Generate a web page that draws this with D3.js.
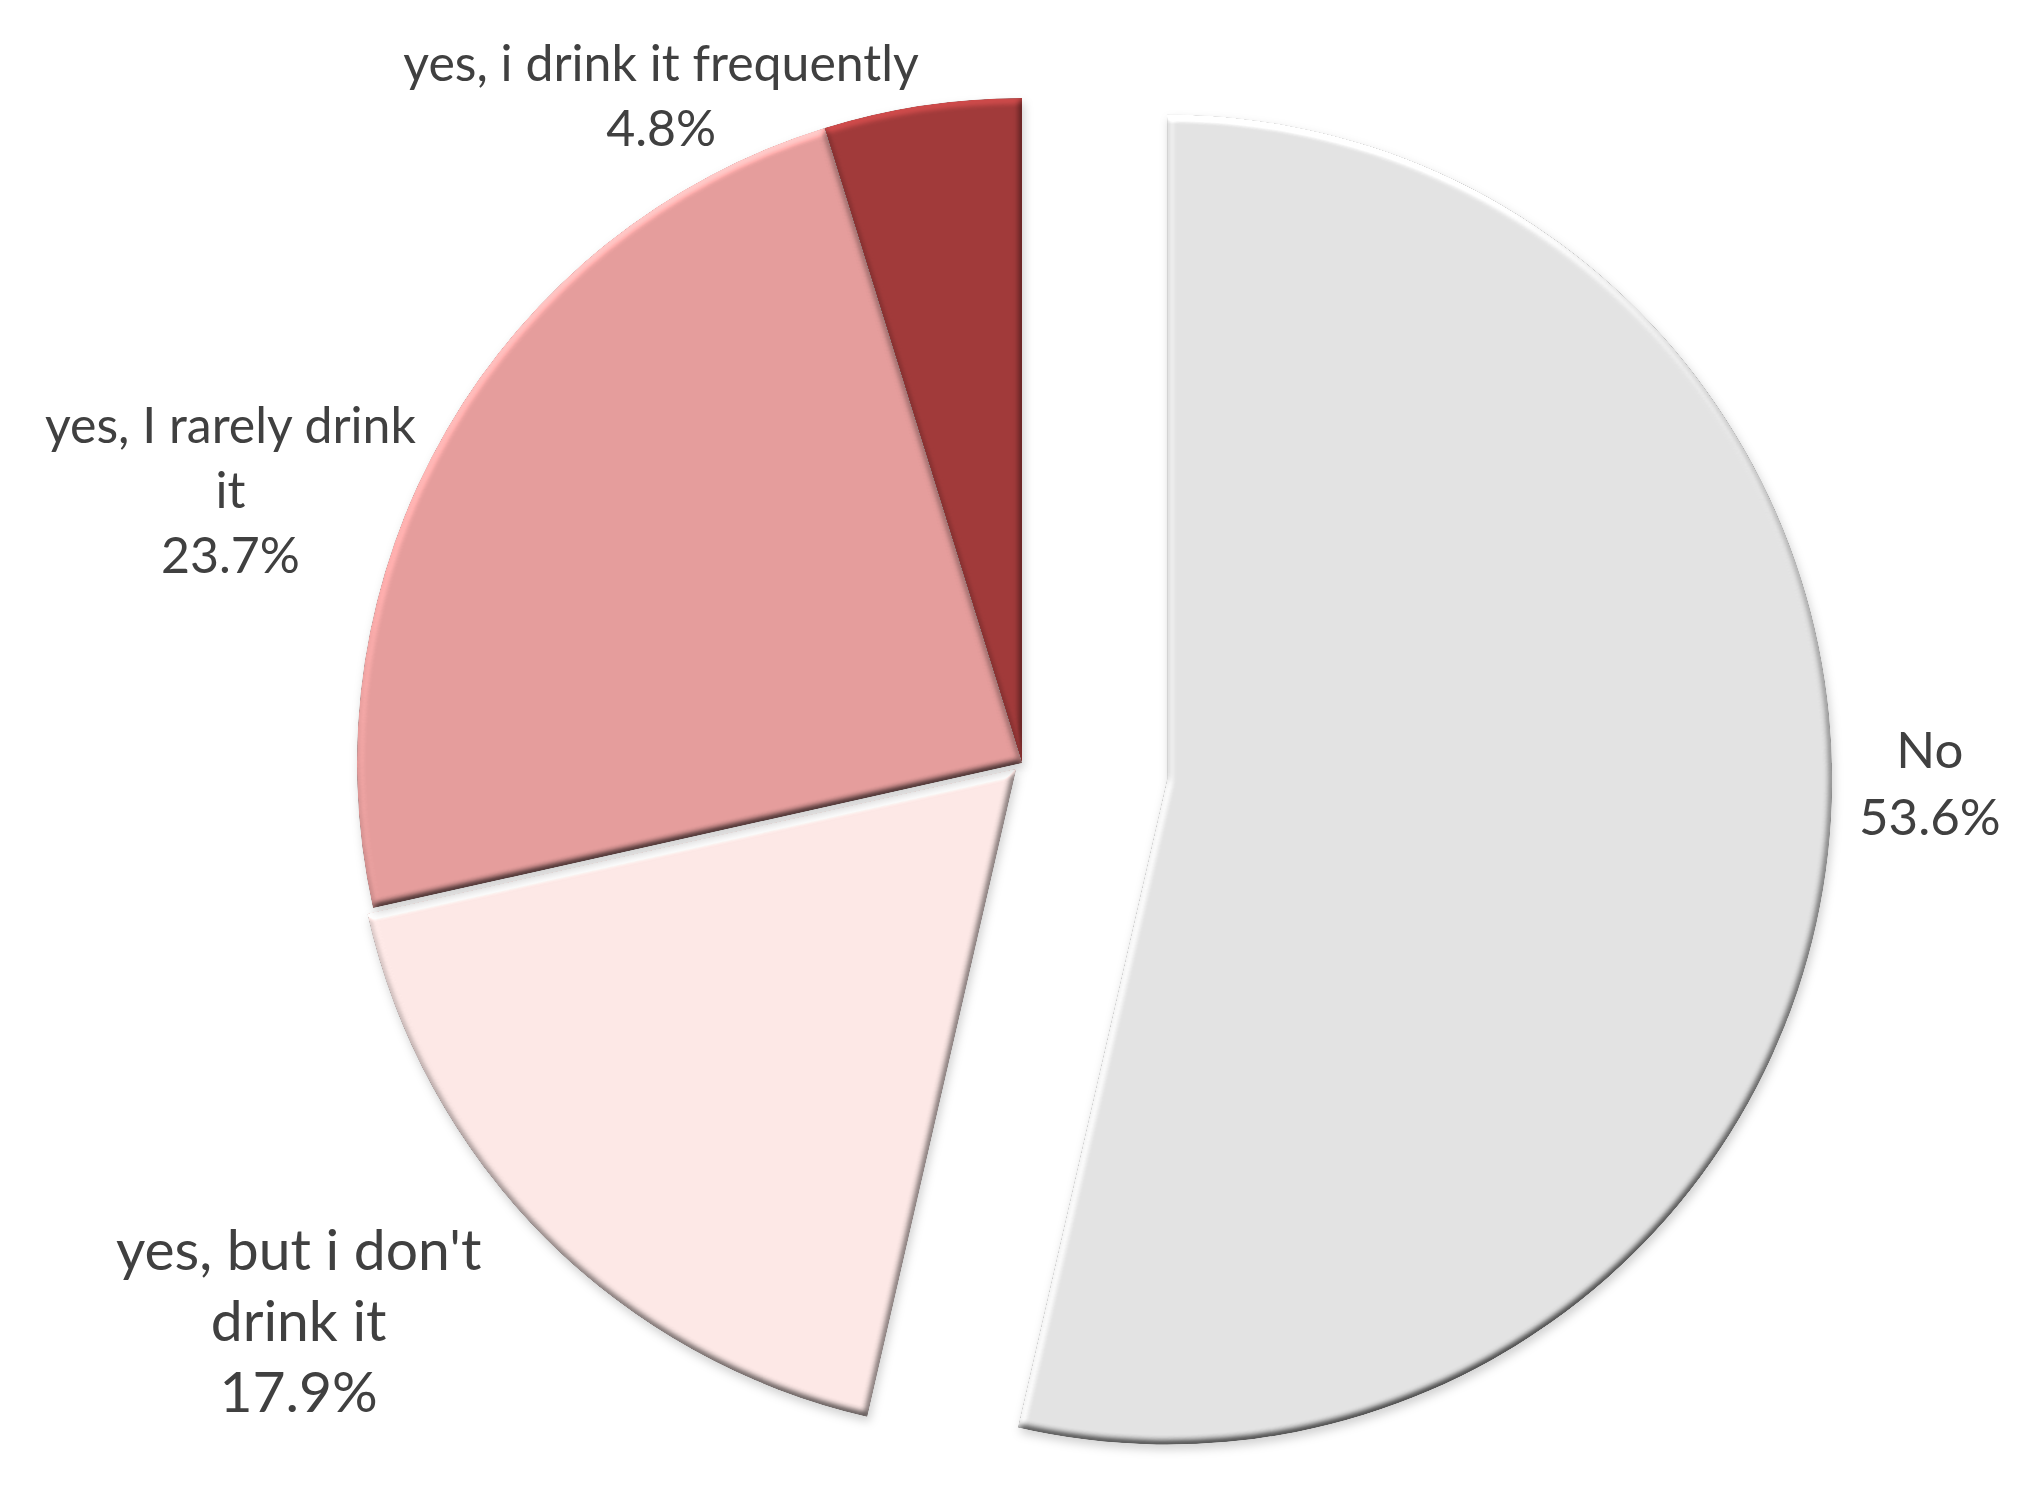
<!DOCTYPE html>
<html>
<head>
<meta charset="utf-8">
<script src="https://cdn.jsdelivr.net/npm/d3@7"></script>
<style>
  html, body { margin: 0; padding: 0; background: #ffffff; }
  svg { display: block; }
  text { font-family: Lato, "Open Sans", sans-serif; fill: #404040; }
</style>
</head>
<body>
<svg id="chart" width="2021" height="1490"></svg>
<script>
// ---- data ----
const categories = ["No", "yes, but i don't drink it", "yes, I rarely drink it", "yes, i drink it frequently"];
const values = [53.6, 17.9, 23.7, 4.8];
const labelLines = [["No"], ["yes, but i don't", "drink it"], ["yes, I rarely drink", "it"], ["yes, i drink it frequently"]];
const percentLabels = ["53.6%", "17.9%", "23.7%", "4.8%"];

// ---- styling / layout ----
const colors = ["#e3e3e3", "#fde8e6", "#e59d9c", "#a13a3a"];
const explode = [146, 8, 0, 0];
const labelFont = [51, 57, 50, 50];
const labelLineH = [67, 71, 65, 65];
const labelOffset = [[102, -70], [-246, 84], [-216, 61], [-261, -9]];

const W = 2021, H = 1490;
const cx = 1022, cy = 763, R = 665;

const svg = d3.select("#chart");
const defs = svg.append("defs");

const f = defs.append("filter").attr("id", "bevel")
  .attr("x", "-6%").attr("y", "-6%").attr("width", "112%").attr("height", "112%")
  .attr("color-interpolation-filters", "sRGB");
f.append("feGaussianBlur").attr("in", "SourceAlpha").attr("stdDeviation", 3.5).attr("result", "b");
const dl = f.append("feDiffuseLighting").attr("in", "b").attr("surfaceScale", 4)
  .attr("diffuseConstant", 1).attr("lighting-color", "#ffffff").attr("result", "d");
dl.append("feDistantLight").attr("azimuth", 250).attr("elevation", 45);
f.append("feComposite").attr("in", "SourceGraphic").attr("in2", "d").attr("operator", "arithmetic")
  .attr("k1", 0.99).attr("k2", 0.3).attr("k3", 0).attr("k4", 0).attr("result", "lit");
f.append("feComposite").attr("in", "lit").attr("in2", "SourceAlpha").attr("operator", "in").attr("result", "litShape");
f.append("feGaussianBlur").attr("in", "SourceAlpha").attr("stdDeviation", 5).attr("result", "sb");
f.append("feOffset").attr("in", "sb").attr("dx", 2).attr("dy", 5).attr("result", "so");
f.append("feFlood").attr("flood-color", "#000").attr("flood-opacity", 0.18).attr("result", "fl");
f.append("feComposite").attr("in", "fl").attr("in2", "so").attr("operator", "in").attr("result", "shadow");
const m = f.append("feMerge");
m.append("feMergeNode").attr("in", "shadow");
m.append("feMergeNode").attr("in", "litShape");

const pie = d3.pie().sort(null).value(d => d)(values);
const arc = d3.arc().innerRadius(0).outerRadius(R);

const g = svg.append("g").attr("transform", `translate(${cx},${cy})`);

pie.forEach((p, i) => {
  const mid = (p.startAngle + p.endAngle) / 2;
  const ex = Math.sin(mid) * explode[i], ey = -Math.cos(mid) * explode[i];
  g.append("path")
    .attr("d", arc(p))
    .attr("transform", `translate(${ex},${ey})`)
    .attr("fill", colors[i])
    .attr("filter", "url(#bevel)");
});

pie.forEach((p, i) => {
  const mid = (p.startAngle + p.endAngle) / 2;
  const ax = Math.sin(mid) * (explode[i] + R), ay = -Math.cos(mid) * (explode[i] + R);
  const bx = ax + labelOffset[i][0], by = ay + labelOffset[i][1];
  const lines = labelLines[i].concat([percentLabels[i]]);
  const n = lines.length;
  const t = g.append("text")
    .attr("text-anchor", "middle")
    .style("font-size", labelFont[i] + "px");
  lines.forEach((ln, k) => {
    t.append("tspan")
      .attr("x", bx)
      .attr("y", by + (k - (n - 1) / 2) * labelLineH[i] + labelFont[i] * 0.34)
      .text(ln);
  });
});
</script>
</body>
</html>
